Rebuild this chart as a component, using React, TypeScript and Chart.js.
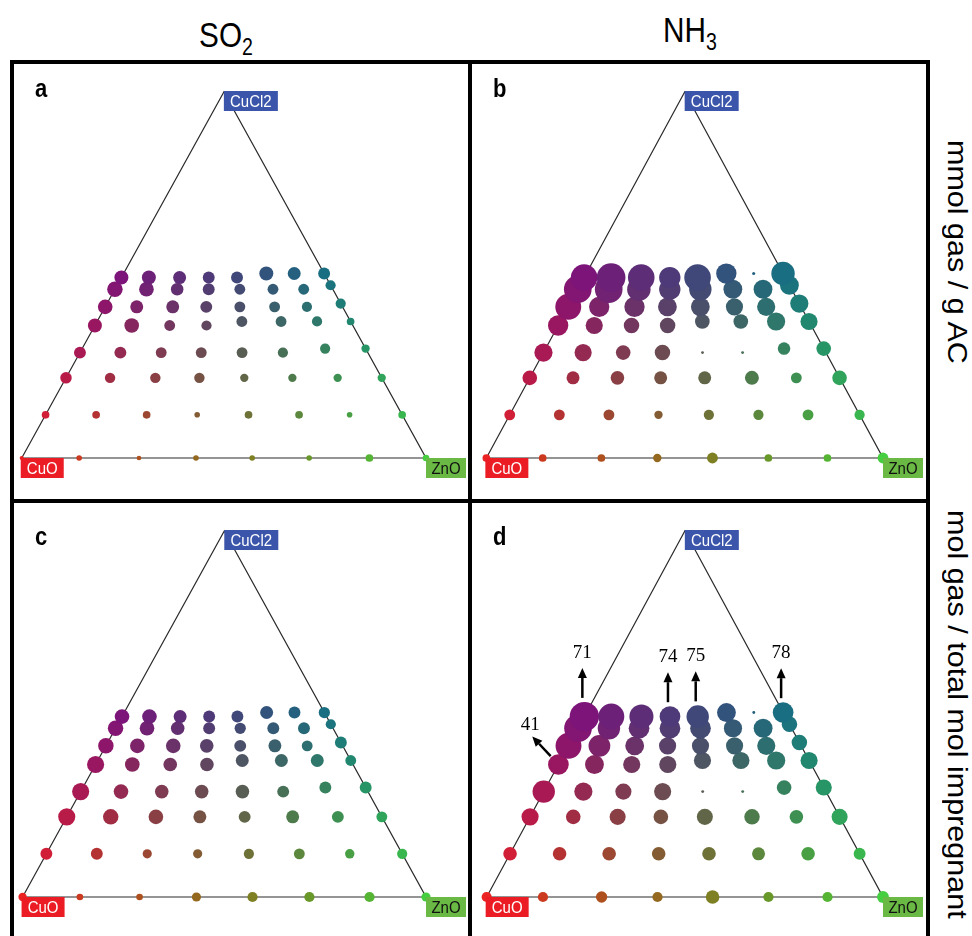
import React, { useEffect, useRef } from "react";
import { Chart, registerables } from "chart.js";

Chart.register(...registerables);

// ---- composition of the 64 samples (mole fractions), row-major: CuCl2 level (bottom->top), CuO->ZnO ----
const cucl2Frac = [
  0, 0, 0, 0, 0, 0, 0, 0,
  0.118, 0.118, 0.118, 0.118, 0.118, 0.118, 0.118, 0.118,
  0.219, 0.219, 0.219, 0.219, 0.219, 0.219, 0.219, 0.219,
  0.288, 0.288, 0.288, 0.288, 0.288, 0.288, 0.299, 0.299,
  0.362, 0.362, 0.362, 0.362, 0.373, 0.373, 0.373, 0.373,
  0.413, 0.413, 0.413, 0.413, 0.413, 0.413, 0.413, 0.422,
  0.461, 0.461, 0.461, 0.461, 0.461, 0.461, 0.461, 0.472,
  0.493, 0.493, 0.493, 0.493, 0.493, 0.504, 0.504, 0.504,
];
const znoFrac = [
  0, 0.142, 0.29, 0.431, 0.57, 0.711, 0.86, 1,
  0, 0.125, 0.25, 0.375, 0.502, 0.627, 0.752, 0.882,
  0, 0.109, 0.221, 0.33, 0.441, 0.56, 0.672, 0.781,
  0, 0.1, 0.201, 0.3, 0.401, 0.502, 0.601, 0.701,
  0, 0.091, 0.185, 0.276, 0.358, 0.455, 0.544, 0.627,
  0, 0.078, 0.167, 0.25, 0.333, 0.419, 0.499, 0.578,
  0, 0.078, 0.154, 0.232, 0.309, 0.391, 0.467, 0.528,
  0, 0.068, 0.144, 0.216, 0.286, 0.353, 0.422, 0.496,
];

// ---- uptake values (relative units), same ordering ----
const so2PerMass = [
  0.13, 0.2, 0.15, 0.2, 0.2, 0.2, 0.3, 0.25,
  0.3, 0.3, 0.3, 0.2, 0.3, 0.3, 0.2, 0.3,
  0.48, 0.43, 0.43, 0.43, 0.33, 0.33, 0.33, 0.33,
  0.5, 0.5, 0.45, 0.45, 0.45, 0.42, 0.42, 0.33,
  0.6, 0.63, 0.45, 0.42, 0.45, 0.45, 0.42, 0.3,
  0.63, 0.55, 0.55, 0.5, 0.45, 0.45, 0.42, 0.42,
  0.67, 0.63, 0.53, 0.5, 0.45, 0.45, 0.45, 0.42,
  0.6, 0.6, 0.55, 0.5, 0.5, 0.6, 0.55, 0.5,
];
const nh3PerMass = [
  0.3, 0.3, 0.3, 0.33, 0.45, 0.3, 0.3, 0.45,
  0.45, 0.45, 0.45, 0.33, 0.42, 0.42, 0.45, 0.42,
  0.63, 0.55, 0.58, 0.55, 0.55, 0.6, 0.45, 0.63,
  0.8, 0.75, 0.63, 0.67, 0.07, 0.07, 0.53, 0.63,
  0.9, 0.75, 0.67, 0.67, 0.63, 0.63, 0.8, 0.75,
  1.17, 0.9, 0.9, 0.83, 0.83, 0.75, 0.8, 0.8,
  1.25, 1.25, 1.05, 0.95, 1.0, 0.83, 0.83, 0.83,
  1.2, 1.3, 1.2, 0.95, 1.2, 0.9, 0.08, 1.05,
];
const so2PerMol = [
  0.33, 0.25, 0.25, 0.37, 0.42, 0.42, 0.42, 0.37,
  0.5, 0.5, 0.37, 0.37, 0.42, 0.45, 0.38, 0.42,
  0.75, 0.67, 0.63, 0.55, 0.5, 0.55, 0.5, 0.45,
  0.75, 0.63, 0.58, 0.58, 0.58, 0.5, 0.5, 0.5,
  0.75, 0.63, 0.58, 0.58, 0.55, 0.55, 0.55, 0.45,
  0.67, 0.63, 0.63, 0.58, 0.5, 0.55, 0.45, 0.5,
  0.67, 0.63, 0.58, 0.5, 0.47, 0.5, 0.5, 0.42,
  0.63, 0.63, 0.55, 0.5, 0.5, 0.55, 0.5, 0.47,
];
const nh3PerMol = [
  0.42, 0.42, 0.47, 0.42, 0.58, 0.42, 0.42, 0.5,
  0.58, 0.58, 0.58, 0.58, 0.58, 0.55, 0.58, 0.5,
  0.75, 0.63, 0.7, 0.63, 0.7, 0.67, 0.58, 0.7,
  1.0, 0.8, 0.7, 0.75, 0.07, 0.07, 0.63, 0.7,
  0.92, 0.83, 0.75, 0.75, 0.75, 0.75, 0.8, 0.75,
  1.17, 0.97, 0.83, 0.75, 0.75, 0.75, 0.8, 0.67,
  1.25, 1.0, 0.92, 0.92, 0.92, 0.8, 0.83, 0.67,
  1.33, 1.17, 1.08, 0.92, 1.0, 0.83, 0.07, 0.92,
];

// off-scale samples in panel d (sample index, printed value, arrow direction in degrees)
const offScalePoints = [56, 59, 60, 63, 32];
const offScaleLabels = ["71", "74", "75", "78", "41"];
const offScaleAngles = [-90, -90, -90, -90, -133];

const vertexLabels = ["CuO", "ZnO", "CuCl2"];
const panelLetters = ["a", "b", "c", "d"];
const columnTitles = ["SO", "NH"];
const columnSubs = ["2", "3"];
const rowTitles = ["mmol gas / g AC", "mol gas / total mol impregnant"];

// value -> bubble radius (px)
const radiusOf = (v: number) => v * 10.5 + 0.7;

// composition -> colour (red = CuO, green = ZnO, blue = CuCl2), print-like rendering
function pointColor(i: number): string {
  const b = cucl2Frac[i];
  const g = znoFrac[i];
  const r = Math.max(0, 1 - b - g);
  const R = Math.round(10 + 224 * r + 60 * g * g);
  const G = Math.round(15 + 191 * g + 20 * r * r);
  const B = Math.round(15 + 204 * b + 50 * g * g + 20 * r * r);
  return `rgb(${Math.min(255, R)},${Math.min(255, G)},${Math.min(255, B)})`;
}

function drawStretched(ctx: CanvasRenderingContext2D, text: string, x: number, y: number, sy: number) {
  ctx.save();
  ctx.translate(x, y);
  ctx.scale(1, sy);
  ctx.fillText(text, 0, 0);
  ctx.restore();
}

function drawBox(
  ctx: CanvasRenderingContext2D, x: number, y: number, w: number, h: number,
  fill: string, color: string, text: string
) {
  ctx.save();
  ctx.fillStyle = fill;
  ctx.fillRect(x, y, w, h);
  ctx.fillStyle = color;
  ctx.font = '15px "Liberation Sans", Arial, sans-serif';
  ctx.textAlign = "center";
  ctx.textBaseline = "alphabetic";
  drawStretched(ctx, text, x + w / 2, y + 16, 1.15);
  ctx.restore();
}

function drawArrow(ctx: CanvasRenderingContext2D, x1: number, y1: number, x2: number, y2: number) {
  const ang = Math.atan2(y2 - y1, x2 - x1);
  const head = 10;
  const hw = 4.5;
  const bx = x2 - head * Math.cos(ang);
  const by = y2 - head * Math.sin(ang);
  ctx.save();
  ctx.strokeStyle = "#000";
  ctx.fillStyle = "#000";
  ctx.lineWidth = 2.5;
  ctx.beginPath();
  ctx.moveTo(x1, y1);
  ctx.lineTo(bx, by);
  ctx.stroke();
  ctx.beginPath();
  ctx.moveTo(x2, y2);
  ctx.lineTo(bx + hw * Math.sin(ang), by - hw * Math.cos(ang));
  ctx.lineTo(bx - hw * Math.sin(ang), by + hw * Math.cos(ang));
  ctx.closePath();
  ctx.fill();
  ctx.restore();
}

const ternaryDecor = {
  id: "ternaryDecor",
  afterDatasetsDraw(chart: any, _args: any, opts: any) {
    const ctx: CanvasRenderingContext2D = chart.ctx;
    const xs = chart.scales.x;
    const ys = chart.scales.y;
    const cuoX = xs.getPixelForValue(0);
    const baseY = ys.getPixelForValue(0);
    const znoX = xs.getPixelForValue(1);
    const apexX = xs.getPixelForValue(0.5);
    const apexY = ys.getPixelForValue(1);
    drawBox(ctx, apexX, apexY - 1, 54, 20, "#3a55a9", "#ffffff", vertexLabels[2]);
    drawBox(ctx, cuoX - 1, baseY, 43, 20, "#ec1c24", "#ffffff", vertexLabels[0]);
    drawBox(ctx, znoX, baseY, 40, 20, "#69b944", "#111111", vertexLabels[1]);

    ctx.save();
    ctx.fillStyle = "#000";
    ctx.font = 'bold 22px "Liberation Sans", Arial, sans-serif';
    ctx.textAlign = "left";
    drawStretched(ctx, opts.letter, 21, opts.letterBaseline, 1.15);
    ctx.restore();

    if (opts.showOffScale) {
      const vals: number[] = opts.values;
      offScalePoints.forEach((idx, k) => {
        const px = xs.getPixelForValue(znoFrac[idx] + cucl2Frac[idx] / 2);
        const py = ys.getPixelForValue(cucl2Frac[idx]);
        const r = radiusOf(vals[idx]);
        const a = (offScaleAngles[k] * Math.PI) / 180;
        const dx = Math.cos(a);
        const dy = Math.sin(a);
        const up = offScaleAngles[k] === -90;
        const tx = px + dx * (r + (up ? 4 : 1)) - (up ? 2 : 0);
        const ty = py + dy * (r + (up ? 4 : 1));
        const len = up ? 30 : 27;
        const hx = tx + dx * len;
        const hy = ty + dy * len;
        drawArrow(ctx, tx, ty, hx, hy);
        ctx.save();
        ctx.fillStyle = "#000";
        ctx.font = '19px "Liberation Serif", "Times New Roman", serif';
        ctx.textAlign = "center";
        ctx.textBaseline = "alphabetic";
        ctx.fillText(offScaleLabels[k], hx + dx * 3, hy - (up ? 10 : 6));
        ctx.restore();
      });
    }
  },
};

type PanelProps = {
  index: number;
  values: number[];
  left: number;
  top: number;
  padLeft: number;
  letterBaseline: number;
};

const CANVAS_W = 454;
const CANVAS_H = 435;

function Panel({ index, values, left, top, padLeft, letterBaseline }: PanelProps) {
  const ref = useRef<HTMLCanvasElement | null>(null);
  useEffect(() => {
    if (!ref.current) return;
    const pts = values.map((v, i) => ({
      x: znoFrac[i] + cucl2Frac[i] / 2,
      y: cucl2Frac[i],
      r: radiusOf(v),
    }));
    const colors = values.map((_, i) => pointColor(i));
    const chart = new Chart(ref.current, {
      type: "bubble",
      data: {
        datasets: [
          {
            type: "bubble",
            data: pts,
            backgroundColor: colors,
            borderWidth: 0,
            hoverBorderWidth: 0,
            clip: false,
            order: 1,
          } as any,
          {
            type: "line",
            data: [
              { x: 0, y: 0 },
              { x: 1, y: 0 },
              { x: 0.5, y: 1 },
              { x: 0, y: 0 },
            ],
            borderColor: "#2a2a2a",
            borderWidth: 1.2,
            pointRadius: 0,
            fill: false,
            tension: 0,
            clip: false,
            order: 2,
          } as any,
        ],
      },
      options: {
        responsive: false,
        animation: false,
        events: [],
        layout: {
          padding: { left: padLeft, right: CANVAS_W - padLeft - 405, top: 28, bottom: CANVAS_H - 28 - 366 },
        },
        scales: {
          x: { type: "linear", min: 0, max: 1, display: false },
          y: { type: "linear", min: 0, max: 1, display: false },
        },
        plugins: {
          legend: { display: false },
          tooltip: { enabled: false },
          ternaryDecor: {
            letter: panelLetters[index],
            letterBaseline,
            showOffScale: index === 3,
            values,
          },
        } as any,
      },
      plugins: [ternaryDecor],
    });
    return () => chart.destroy();
  }, [index, values, padLeft, letterBaseline]);
  return (
    <div style={{ position: "absolute", left, top, width: CANVAS_W, height: CANVAS_H }}>
      <canvas ref={ref} width={CANVAS_W} height={CANVAS_H} style={{ width: CANVAS_W, height: CANVAS_H, display: "block" }} />
    </div>
  );
}

const bar = (l: number, t: number, w: number, h: number) => (
  <div style={{ position: "absolute", left: l, top: t, width: w, height: h, background: "#000" }} />
);

export default function App() {
  const headFont = '"Liberation Sans", Arial, sans-serif';
  return (
    <div style={{ position: "absolute", left: 0, top: 0, width: 972, height: 936, background: "#fff", overflow: "hidden" }}>
      <Panel index={0} values={so2PerMass} left={14} top={64} padLeft={7} letterBaseline={33} />
      <Panel index={1} values={nh3PerMass} left={472} top={64} padLeft={6} letterBaseline={33} />
      <Panel index={2} values={so2PerMol} left={14} top={503} padLeft={7} letterBaseline={42} />
      <Panel index={3} values={nh3PerMol} left={472} top={503} padLeft={6} letterBaseline={42} />
      {bar(10, 60, 920, 4)}
      {bar(10, 60, 4, 890)}
      {bar(468, 60, 4, 890)}
      {bar(926, 60, 4, 890)}
      {bar(10, 499, 920, 4)}
      {[0, 1].map((k) => (
        <div
          key={k}
          style={{
            position: "absolute",
            left: k === 0 ? 161 : 625,
            top: k === 0 ? 17 : 12,
            width: 130,
            textAlign: "center",
            fontFamily: headFont,
            fontSize: 35,
            lineHeight: "35px",
            color: "#000",
            transform: "scaleX(0.85)",
            whiteSpace: "nowrap",
          }}
        >
          {columnTitles[k]}
          <span style={{ fontSize: 23, position: "relative", top: 8 }}>{columnSubs[k]}</span>
        </div>
      ))}
      {[0, 1].map((k) => (
        <div
          key={"r" + k}
          style={{
            position: "absolute",
            left: 942,
            top: k === 0 ? 140 : 510,
            writingMode: "vertical-rl",
            fontFamily: headFont,
            fontSize: 27,
            lineHeight: "30px",
            color: "#000",
            whiteSpace: "nowrap",
            transform: "scaleY(1.13)",
            transformOrigin: "top",
          }}
        >
          {rowTitles[k]}
        </div>
      ))}
    </div>
  );
}
